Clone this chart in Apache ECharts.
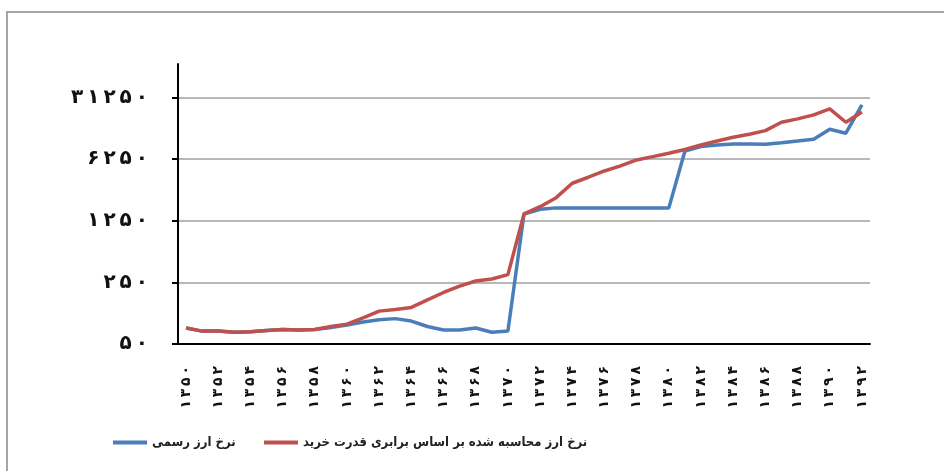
<!DOCTYPE html>
<html>
<head>
<meta charset="utf-8">
<script src="https://cdn.jsdelivr.net/npm/echarts@6/dist/echarts.min.js"></script>
<style>
html,body{margin:0;padding:0;background:#fff;}
#chart{width:944px;height:471px;}
</style>
</head>
<body>
<div id="chart"></div>
<script>
// Years 1350..1392 (Persian digits)
const years = ['۱۳۵۰','۱۳۵۱','۱۳۵۲','۱۳۵۳','۱۳۵۴','۱۳۵۵','۱۳۵۶','۱۳۵۷','۱۳۵۸','۱۳۵۹',
  '۱۳۶۰','۱۳۶۱','۱۳۶۲','۱۳۶۳','۱۳۶۴','۱۳۶۵','۱۳۶۶','۱۳۶۷','۱۳۶۸','۱۳۶۹',
  '۱۳۷۰','۱۳۷۱','۱۳۷۲','۱۳۷۳','۱۳۷۴','۱۳۷۵','۱۳۷۶','۱۳۷۷','۱۳۷۸','۱۳۷۹',
  '۱۳۸۰','۱۳۸۱','۱۳۸۲','۱۳۸۳','۱۳۸۴','۱۳۸۵','۱۳۸۶','۱۳۸۷','۱۳۸۸','۱۳۸۹',
  '۱۳۹۰','۱۳۹۱','۱۳۹۲'];

// Official exchange rate
const officialRate = [76,70,70,68,69,71,73,72,73,77,
  82,89,94,97,91,79,72,72,76,68,
  70,1490,1690,1750,1750,1750,1750,1750,1750,1750,
  1750,7740,8665,9055,9295,9295,9225,9615,10055,10510,
  13645,12295,25730];

// Rate computed from purchasing power parity
const pppRate = [76,70,70,68,69,71,73,72,73,79,
  84,99,118,123,130,158,192,227,259,273,
  306,1493,1806,2285,3330,3895,4590,5233,6120,6675,
  7290,8055,9055,10055,11075,11980,13160,16385,17875,19835,
  23200,16385,21450];

const yTicks = [50, 250, 1250, 6250, 31250];
const yTickLabels = ['۵۰', '۲۵۰', '۱۲۵۰', '۶۲۵۰', '۳۱۲۵۰'];

const nameOfficial = 'نرخ ارز رسمی';
const namePPP = 'نرخ ارز محاسبه شده بر اساس برابری قدرت خرید';

const FONT = 'DejaVu Sans';
const LEGEND_FONT = '"DejaVu Sans Condensed", "DejaVu Sans"';
const spaced = function (s) { return s.split('').join('\u2009'); };

const chart = echarts.init(document.getElementById('chart'));
chart.setOption({
  animation: false,
  backgroundColor: '#fff',
  graphic: [{
    type: 'rect', silent: true, z: -10,
    shape: {x: 7, y: 12, width: 1000, height: 1000},
    style: {fill: 'none', stroke: '#a6a6a6', lineWidth: 2}
  }],
  grid: {left: 178, right: 74, top: 64, bottom: 127, containLabel: false},
  legend: [{
    data: [nameOfficial], left: 108, top: 431, icon: 'rect',
    itemWidth: 34, itemHeight: 4,
    textStyle: {fontFamily: LEGEND_FONT, fontSize: 13, fontWeight: 'bold', color: '#222'}
  }, {
    data: [namePPP], left: 259, top: 431, icon: 'rect',
    itemWidth: 34, itemHeight: 4,
    textStyle: {fontFamily: LEGEND_FONT, fontSize: 13, fontWeight: 'bold', color: '#222'}
  }],
  xAxis: {
    type: 'category', data: years, boundaryGap: true,
    axisLine: {lineStyle: {color: '#000', width: 2}},
    axisTick: {interval: 0, length: 6, lineStyle: {color: '#000', width: 2}},
    axisLabel: {interval: 1, rotate: 90, margin: 22, fontFamily: FONT, fontSize: 14, fontWeight: 'bold', color: '#111',
      formatter: spaced},
    splitLine: {show: false}
  },
  yAxis: {
    type: 'log', logBase: 5, min: 50, max: 75000,
    axisLine: {show: true, lineStyle: {color: '#000', width: 2}},
    axisTick: {show: true, length: 6, lineStyle: {color: '#000', width: 2}, customValues: yTicks},
    axisLabel: {
      customValues: yTicks, margin: 30, fontFamily: FONT, fontSize: 20, fontWeight: 'bold', color: '#111',
      formatter: function (v) { const k = yTicks.indexOf(Math.round(v)); return k >= 0 ? spaced(yTickLabels[k]) : ''; }
    },
    splitLine: {show: true, lineStyle: {color: '#a0a0a0', width: 1.5}}
  },
  series: [{
    name: nameOfficial, type: 'line', data: officialRate, symbol: 'none',
    lineStyle: {color: '#4a7ebb', width: 3.5}, itemStyle: {color: '#4a7ebb'}
  }, {
    name: namePPP, type: 'line', data: pppRate, symbol: 'none',
    lineStyle: {color: '#c0504d', width: 3.5}, itemStyle: {color: '#c0504d'}
  }]
});
</script>
</body>
</html>
